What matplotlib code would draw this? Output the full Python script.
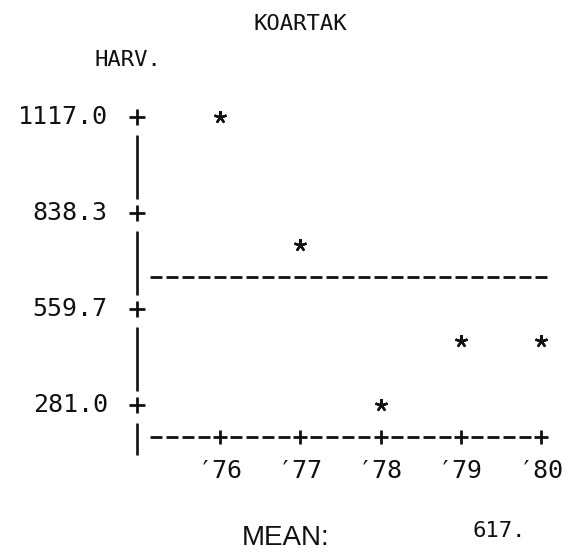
import numpy as np
import matplotlib
matplotlib.use('Agg')
import matplotlib.pyplot as plt

# harvest by season
years = [76, 77, 78, 79, 80]
year_labels = ['′76', '′77', '′78', '′79', '′80']
harvest = [1117, 750, 285, 470, 463]
y_ticks = [1117.0, 838.3, 559.7, 281.0]
title = 'KOARTAK'
y_name = 'HARV.'

mono = 'DejaVu Sans Mono'
ink = '#111111'

# line printer grid: 3 rows between labelled ticks, 5 columns per year
top = y_ticks[0]
step = (y_ticks[0] - y_ticks[-1]) / 9
col = 0.2
def snap(v):
    return top - np.round((top - v) / step) * step
def row(r):
    return top - r * step

mean = np.mean(harvest)

W, H = 574, 554
fig = plt.figure(figsize=(W / 100, H / 100), dpi=100)
ax = fig.add_axes([0, 0, 1, 1])
ax.axis('off')

# pixel anchors of the plot area
px_y = (288 / (y_ticks[0] - y_ticks[-1]))
ax.set_ylim(top - (H - 117) / px_y, top + 117 / px_y)
px_x = 80.25
ax.set_xlim(76 - 220 / px_x, 76 + (W - 220) / px_x)

axis_x = years[0] - 1.04

# vertical axis: '|' between the ticks and one more on the x-axis row
for r0, r1 in [(1, 2), (4, 5), (7, 8), (10, 10)]:
    ax.plot([axis_x, axis_x], [row(r0 - 0.45), row(r1 + 0.55)], color=ink, lw=1.9,
            solid_capstyle='butt')
ax.plot([axis_x] * len(y_ticks), y_ticks, ls='none', marker='+', ms=12, mew=2, color=ink)
for v in y_ticks:
    ax.text(axis_x - 0.36, v, f'{v:.1f}', ha='right', va='center', family=mono,
            fontsize=18, color=ink)

# x-axis row of dashes with '+' at each year
cells = np.round(np.arange(years[0] - 0.8, years[-1] + 0.01, col), 2)
dash_cells = [c for c in cells if not np.isclose(c, np.round(c))]
y_axis_row = row(10)
ax.hlines([y_axis_row] * len(dash_cells), np.array(dash_cells) - 0.075,
          np.array(dash_cells) + 0.075, color=ink, lw=2)
ax.plot(years, [y_axis_row] * len(years), ls='none', marker='+', ms=10, mew=2, color=ink)
for x, lab in zip(years, year_labels):
    ax.text(x, row(11.05), lab, ha='center', va='center', family=mono, fontsize=18,
            color=ink)

# mean line
mean_cells = np.round(np.arange(years[0] - 0.8, years[-1] + 0.01, col), 2)
ax.hlines([snap(mean)] * len(mean_cells), mean_cells - 0.075, mean_cells + 0.075,
          color=ink, lw=2)

# harvest points
ax.plot(years, snap(np.array(harvest, dtype=float)), ls='none', marker=(5, 2, 0),
        ms=9, mew=1.7, color=ink)

fig.text(300 / W, 1 - 24 / H, title, ha='center', va='center', family=mono,
         fontsize=16, color=ink)
fig.text(128 / W, 1 - 60 / H, y_name, ha='center', va='center', family=mono,
         fontsize=16, color=ink)
fig.text(286 / W, 1 - 538 / H, 'MEAN:', ha='center', va='center',
         family='Liberation Sans', fontsize=20, color=ink)
fig.text(472 / W, 1 - 531 / H, f'{mean:.0f}.', ha='left', va='center', family=mono,
         fontsize=16, color=ink)

fig.savefig('out.png', dpi=100)
